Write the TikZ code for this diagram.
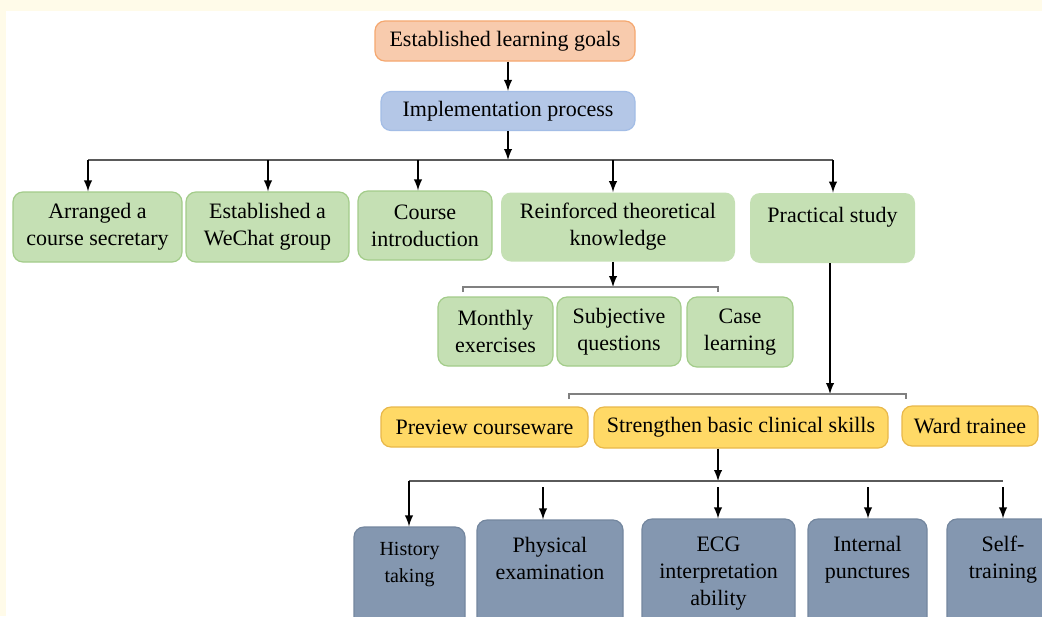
\documentclass[tikz,border=0pt]{standalone}
\usepackage{fontspec}
\setmainfont{Liberation Serif}
\definecolor{hintergrund}{HTML}{FFFBE9}
\definecolor{zielfarbe}{HTML}{F8CBAD}
\definecolor{zielrand}{HTML}{F5A870}
\definecolor{blaufarbe}{HTML}{B4C7E7}
\definecolor{blaurand}{HTML}{A3BDE6}
\definecolor{gruenfarbe}{HTML}{C5E0B4}
\definecolor{gruenrand}{HTML}{A3CC8A}
\definecolor{gelbfarbe}{HTML}{FFD966}
\definecolor{gelbrand}{HTML}{E8B84A}
\definecolor{graufarbe}{HTML}{8497B0}
\definecolor{graurand}{HTML}{74879F}
\definecolor{liniengrau}{HTML}{5A5A5A}
\definecolor{klammergrau}{HTML}{808080}
\begin{document}
\begin{tikzpicture}[x=0.5pt,y=-0.5pt]
\tikzset{kasten/.style={rectangle,rounded corners=5pt,align=center,inner sep=1pt,font=\fontsize{11}{13.5}\selectfont},
zielkasten/.style={kasten,fill=zielfarbe,draw=zielrand,line width=0.6pt},
blaukasten/.style={kasten,fill=blaufarbe,draw=blaurand,line width=0.6pt},
gruenkasten/.style={kasten,fill=gruenfarbe,draw=gruenrand,line width=0.6pt},
gruenflach/.style={kasten,fill=gruenfarbe},
gelbkasten/.style={kasten,fill=gelbfarbe,draw=gelbrand,line width=0.6pt},
graukasten/.style={kasten,fill=graufarbe,draw=graurand,line width=0.6pt},
pfeil/.style={-latex,line width=0.9pt},
linie/.style={draw=liniengrau,line width=0.75pt},
klammer/.style={draw=klammergrau,line width=0.7pt}}
\clip (0,0) rectangle (1042,616);
\fill[hintergrund] (0,0) rectangle (1042,616);
\fill[white] (6,11) rectangle (1042,616);
% oben
\node [zielkasten,minimum width=130pt,minimum height=20pt] (a) at (505,41) {Established learning goals};
\node [blaukasten,minimum width=127pt,minimum height=19.5pt] (b) at (508,111) {Implementation process};
% zweite Reihe
\node [gruenkasten,minimum width=84.5pt,minimum height=35pt] (c1) at (97.5,227) {Arranged a\\course secretary};
\node [gruenkasten,minimum width=81.5pt,minimum height=35pt] (c2) at (267.5,227) {Established a\\WeChat group};
\node [gruenkasten,minimum width=67pt,minimum height=34.5pt] (c3) at (425,225.5) {Course\\introduction};
\node [gruenflach,minimum width=117pt,minimum height=34.5pt] (c4) at (618,227) {Reinforced theoretical\\knowledge};
\node [gruenflach,minimum width=82.5pt,minimum height=35pt] (c5) at (832.5,228) {Practical study\\~};
% Theorie
\node [gruenkasten,minimum width=57.5pt,minimum height=34.5pt] (d1) at (495.5,331.5) {Monthly\\exercises};
\node [gruenkasten,minimum width=62pt,minimum height=34.5pt] (d2) at (619,331.5) {Subjective\\questions};
\node [gruenkasten,minimum width=53pt,minimum height=35pt] (d3) at (740,332) {Case\\learning};
% Praxis
\node [gelbkasten,minimum width=103.5pt,minimum height=20pt] (e1) at (484.5,427) {Preview courseware};
\node [gelbkasten,minimum width=147pt,minimum height=20.5pt] (e2) at (741,427.5) {Strengthen basic clinical skills};
\node [gelbkasten,minimum width=68pt,minimum height=20pt] (e3) at (970,426) {Ward trainee};
% Fertigkeiten
\node [graukasten,minimum width=55.5pt,minimum height=62.5pt,font=\fontsize{10}{13.5}\selectfont] (f1) at (409.5,589.5) {History\\taking\\~\\~};
\node [graukasten,minimum width=73pt,minimum height=65.5pt] (f2) at (550,585.5) {Physical\\examination\\~\\~};
\node [graukasten,minimum width=76.5pt,minimum height=65.5pt] (f3) at (718.5,584.5) {ECG\\interpretation\\ability\\~};
\node [graukasten,minimum width=59.5pt,minimum height=65.5pt] (f4) at (867.5,584.5) {Internal\\punctures\\~\\~};
\node [graukasten,minimum width=56pt,minimum height=65.5pt] (f5) at (1003,584.5) {Self-\\training\\~\\~};
% Verbindungen
\coordinate (k0) at (508,160);
\coordinate (k1) at (88,160);
\coordinate (k2) at (268,160);
\coordinate (k3) at (418,160);
\coordinate (k4) at (613,160);
\coordinate (k5) at (833,160);
\draw[pfeil] (b.north |- a.south) to (b.north);
\draw[pfeil] (b.south) to (k0);
\draw[linie] (k1) -- (k5);
\draw[pfeil] (k1) to (k1 |- c1.north);
\draw[pfeil] (k2) to (k2 |- c2.north);
\draw[pfeil] (k3) to (k3 |- c3.north);
\draw[pfeil] (k4) to (k4 |- c4.north);
\draw[pfeil] (k5) to (k5 |- c5.north);
\coordinate (l0) at (613,287);
\coordinate (l1) at (463,292);
\coordinate (l2) at (718,292);
\draw[pfeil] (l0 |- c4.south) to (l0);
\draw[klammer] (l1) |- (l0) -| (l2);
\coordinate (m0) at (830,394);
\coordinate (m1) at (569,399);
\coordinate (m2) at (906,399);
\draw[pfeil] (m0 |- c5.south) to (m0);
\draw[klammer] (m1) |- (m0) -| (m2);
\coordinate (n0) at (718,481);
\coordinate (n1) at (409,481);
\coordinate (n2) at (543,481);
\coordinate (n3) at (718,481);
\coordinate (n4) at (868,481);
\coordinate (n5) at (1003,481);
\draw[pfeil] (n0 |- e2.south) to (n0);
\draw[linie] (n1) -- (n5);
\draw[pfeil] (n1) to (n1 |- f1.north);
\draw[pfeil] ([yshift=-3pt]n2) to (n2 |- f2.north);
\draw[pfeil] ([yshift=-3pt]n3) to (n3 |- f3.north);
\draw[pfeil] ([yshift=-3pt]n4) to (n4 |- f4.north);
\draw[pfeil] ([yshift=-3pt]n5) to (n5 |- f5.north);
\end{tikzpicture}
\end{document}
